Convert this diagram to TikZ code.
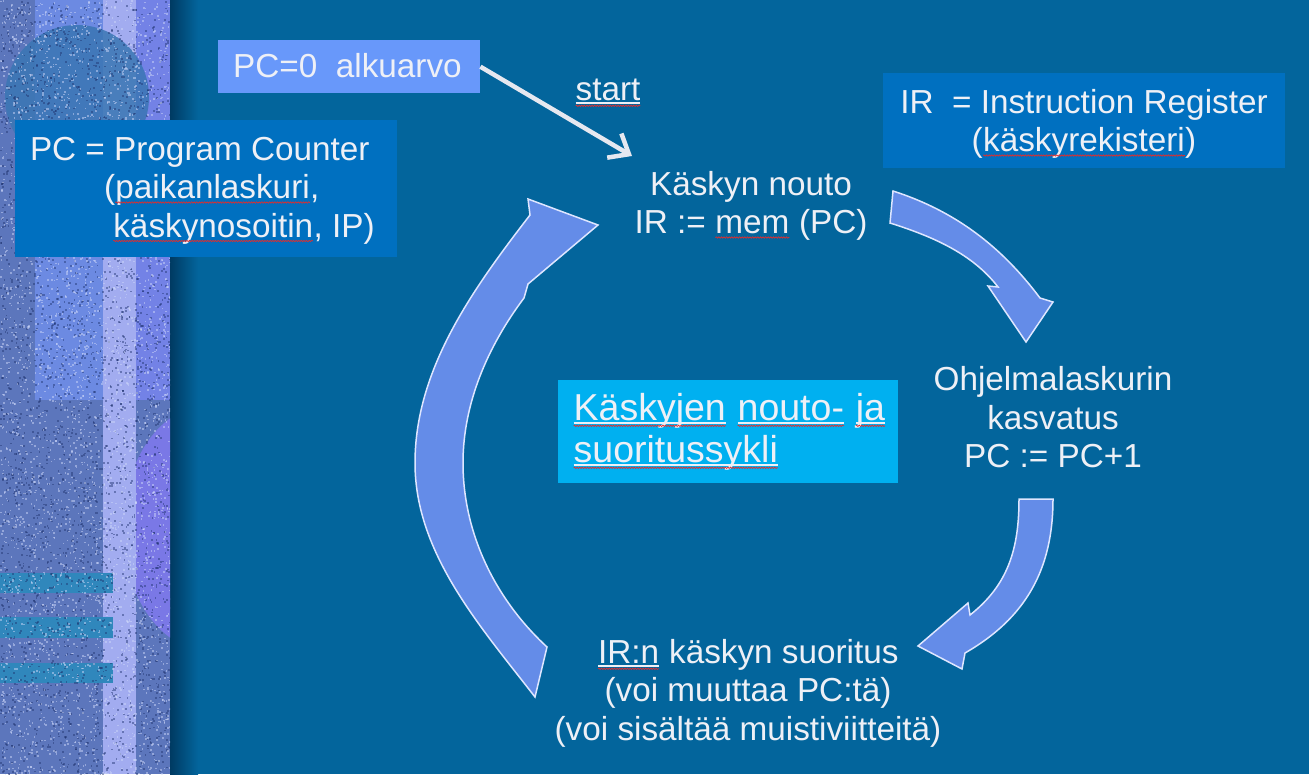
\documentclass[tikz,border=0pt]{standalone}
\usepackage{fontspec}
\setmainfont{Liberation Sans}
\usetikzlibrary{arrows.meta,decorations.pathmorphing}

\definecolor{bg}{RGB}{3,101,156}
\definecolor{shadowdark}{RGB}{0,58,98}
\definecolor{txt}{RGB}{238,240,246}
\definecolor{boxdark}{RGB}{0,112,192}
\definecolor{boxlight}{RGB}{104,152,250}
\definecolor{boxcyan}{RGB}{0,176,240}
\definecolor{cyclefill}{RGB}{100,140,232}
\definecolor{cycleedge}{RGB}{222,230,255}
\definecolor{spellred}{RGB}{225,45,45}
\definecolor{arrowwhite}{RGB}{230,232,240}
\definecolor{stripbase}{RGB}{92,118,188}
\definecolor{stripmid}{RGB}{108,138,226}
\definecolor{striplight}{RGB}{162,172,240}
\definecolor{stripmidb}{RGB}{115,130,230}
\definecolor{strippurple}{RGB}{122,120,230}
\definecolor{stripteal}{RGB}{58,118,180}
\definecolor{stripbar}{RGB}{48,135,188}
\definecolor{speckdark}{RGB}{30,50,110}
\definecolor{specklight}{RGB}{205,215,248}

% word with a red spell-check squiggle
\newcommand\sqword[1]{\tikz[baseline=(sw.base),x=1pt,y=1pt]{%
  \node[anchor=base,inner sep=0pt,outer sep=0pt,draw=none,fill=none] (sw) {#1};
  \draw[spellred,line width=0.7pt,decorate,decoration={snake,amplitude=0.7pt,segment length=2.6pt}]
    ([yshift=-4pt]sw.base west) -- ([yshift=-4pt]sw.base east);}}
% underlined word with a red spell-check squiggle
\newcommand\ulword[1]{\tikz[baseline=(uw.base),x=1pt,y=1pt]{%
  \node[anchor=base,inner sep=0pt,outer sep=0pt,draw=none,fill=none] (uw) {#1};
  \draw[txt,line width=1.4pt] ([yshift=-3pt]uw.base west) -- ([yshift=-3pt]uw.base east);
  \draw[spellred,line width=0.7pt,decorate,decoration={snake,amplitude=0.7pt,segment length=2.6pt}]
    ([yshift=-5.8pt]uw.base west) -- ([yshift=-5.8pt]uw.base east);}}
\newcommand\clines[1]{\begin{tabular}[t]{@{}c@{}}#1\end{tabular}}
\newcommand\llines[1]{\begin{tabular}[t]{@{}l@{}}#1\end{tabular}}

\tikzset{
  lbl/.style={text=txt, inner sep=0pt, outer sep=0pt, anchor=base,
    font=\fontsize{33.3}{38.5}\selectfont},
  panel/.style={fill=#1, draw=none, inner sep=0pt, anchor=north west},
  cyclearrow/.style={fill=cyclefill, draw=cycleedge, line width=1.5pt, line join=miter},
  startarrow/.style={draw=arrowwhite, line width=4.5pt,
    -{Straight Barb[length=17pt,width=28pt]}}
}

\begin{document}
\begin{tikzpicture}[x=1pt,y=-1pt]
\useasboundingbox (0,0) rectangle (1309,774);
\fill[bg] (0,0) rectangle (1309,774);

% shadow along the textured strip
\shade[left color=shadowdark, right color=bg] (170,0) rectangle (198,774);

% textured strip on the left
\begin{scope}
  \clip (0,0) rectangle (170,774);
  \fill[stripbase] (0,0) rectangle (170,774);
  \fill[stripmid] (35,0) rectangle (103,400);
  \fill[stripmidb] (136,0) rectangle (170,400);
  \fill[strippurple] (207,528) ellipse[x radius=84, y radius=122];
  \fill[striplight] (103,0) rectangle (136,774);
  \fill[stripteal, opacity=0.85] (77,97) circle[radius=72];
  \fill[stripbar] (0,573) rectangle (113,593);
  \fill[stripbar] (0,617) rectangle (113,638);
  \fill[stripbar] (0,663) rectangle (113,683);
  \pgfmathsetseed{5}
  \begin{scope}[fill opacity=0.45]
    \foreach \k in {1,...,3200}{
      \pgfmathsetmacro{\spx}{rnd*170}
      \pgfmathsetmacro{\spy}{rnd*774}
      \fill[speckdark] (\spx,\spy) rectangle ++(1.8,1.8);
    }
  \end{scope}
  \begin{scope}[fill opacity=0.5]
    \foreach \k in {1,...,4000}{
      \pgfmathsetmacro{\spx}{rnd*170}
      \pgfmathsetmacro{\spy}{rnd*774}
      \fill[specklight] (\spx,\spy) rectangle ++(1.6,1.6);
    }
  \end{scope}
\end{scope}

% boxes
\node[panel=boxlight, minimum width=262pt, minimum height=53pt] (init) at (218,40) {};
\node[panel=boxdark, minimum width=382pt, minimum height=137pt] (pcbox) at (15,120) {};
\node[panel=boxdark, minimum width=402pt, minimum height=95pt] (irbox) at (883,73) {};
\node[panel=boxcyan, minimum width=340pt, minimum height=103pt] (cyclebox) at (558,380) {};

% box texts
\node[lbl] (inittext) at (347.5,77) {PC=0\ \ alkuarvo};
\node[lbl, anchor=base west] (pctext) at (30,160) {\llines{PC = Program Counter\\
  \hspace*{74pt}(\sqword{paikanlaskuri},\\
  \hspace*{83pt}\sqword{käskynosoitin}, IP)}};
\node[lbl] (irtext) at (1084,113) {\clines{IR\ \ = Instruction Register\\(\sqword{käskyrekisteri})}};
\node[lbl, anchor=base west, font=\fontsize{37.5}{42}\selectfont] (cycletext) at (573,420)
  {\llines{\ulword{Käskyjen} \ulword{nouto-} \ulword{ja}\\\ulword{suoritussykli}}};

% cycle stages
\node[lbl] (fetch) at (751,195) {\clines{Käskyn nouto\\IR := \sqword{mem} (PC)}};
\node[lbl] (incr) at (1053,390.5) {\clines{Ohjelmalaskurin\\kasvatus\\PC := PC+1}};
\node[lbl] (exec) at (748,663) {\clines{\ulword{IR:n} käskyn suoritus\\(voi muuttaa PC:tä)\\(voi sisältää muistiviitteitä)}};

% start arrow
\node[lbl, anchor=base west] (startlbl) at (575,100) {\ulword{start}};
\coordinate (fetchin) at (632,156);
\draw[startarrow] (init.east) -- (fetchin);

% curved block arrows of the cycle
\draw[cyclearrow] (893,191) .. controls (955,211) and (1001,246) .. (1040,298)
  -- (1053,302) -- (1026,342) -- (988,286) -- (998,287)
  .. controls (972,253) and (931,236) .. (890,223) -- cycle;
\draw[cyclearrow] (1019,499) -- (1053,499)
  .. controls (1053,569) and (1026,618) .. (965,653)
  -- (962,669) -- (918,646) -- (968,603) -- (970,615)
  .. controls (1008,585) and (1019,549) .. (1019,499) -- cycle;
\draw[cyclearrow] (535,697) .. controls (480,626) and (415,553) .. (415,463)
  .. controls (415,369) and (473,289) .. (530,215)
  -- (528,199) -- (598,225) -- (528,284) -- (524,298)
  .. controls (488,346) and (463,403) .. (463,463)
  .. controls (463,533) and (495,599) .. (547,647) -- cycle;
\end{tikzpicture}
\end{document}
